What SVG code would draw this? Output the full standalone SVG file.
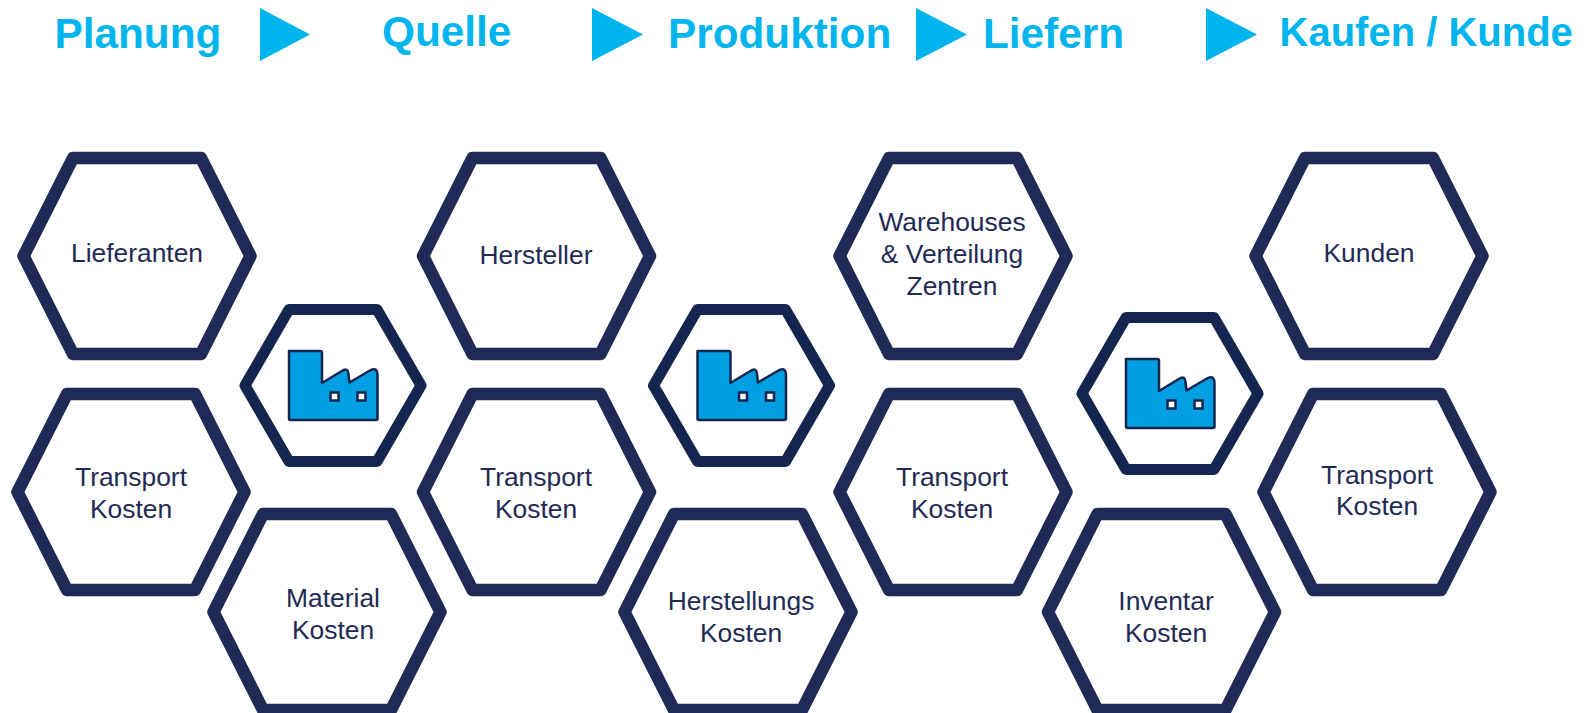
<svg xmlns="http://www.w3.org/2000/svg" width="1590" height="713" viewBox="0 0 1590 713">
<style>
.hex{fill:#fff;stroke:#1f2a56;stroke-width:12.500;stroke-linejoin:round}
.hs{fill:#fff;stroke:#14264f;stroke-width:11;stroke-linejoin:round}
.t{font-family:"Liberation Sans",Arial,sans-serif;font-size:26.400px;fill:#1f2a56;text-anchor:middle}
.h{font-family:"Liberation Sans",Arial,sans-serif;font-size:42.300px;font-weight:bold;fill:#00b5ee}
.a{fill:#00b5ee}
.f{fill:#009fe3;stroke:#14264f;stroke-width:2.500;stroke-linejoin:round}
.w{fill:#fff;stroke:#14264f;stroke-width:2.500}
</style>
<defs>
<polygon id="hx" points="-113.500,0 -64,-98 64,-98 113.500,0 64,98 -64,98"/>
<polygon id="hy" points="-88,0 -44,-76 44,-76 88,0 44,76 -44,76"/>
<g id="fac">
<path class="f" d="M-44,-34.500 H-13 Q-11,-34.500 -11,-32.500 V-2.500 L8,-14 C12,-16.500 15,-17.500 15.500,-11 L16.500,-3 L36,-14.500 C41,-17.500 44.500,-17 44.500,-10 V33 Q44.500,34.500 43,34.500 H-42.500 Q-44,34.500 -44,33 Z"/>
<rect class="w" x="-2.500" y="7" width="8" height="8"/>
<rect class="w" x="24.500" y="7" width="8" height="8"/>
</g>
</defs>
<g id="connectors"></g>
<g id="headers">
<text class="h" x="54.500" y="48">Planung</text>
<text class="h" x="382" y="46">Quelle</text>
<text class="h" x="668" y="48">Produktion</text>
<text class="h" x="983" y="48">Liefern</text>
<text class="h" x="1279.500" y="46" style="font-size:40px">Kaufen / Kunde</text>
<polygon class="a" points="260,8 310,34.500 260,61"/>
<polygon class="a" points="592,8 643,34.500 592,61"/>
<polygon class="a" points="916,8 967,34.500 916,61"/>
<polygon class="a" points="1206,8 1257,34.500 1206,61"/>
</g>
<g id="n1"><use href="#hx" class="hex" x="137" y="256"/><text class="t" x="137" y="262">Lieferanten</text></g>
<g id="n2"><use href="#hx" class="hex" x="131" y="492"/><text class="t" x="131" y="486">Transport</text><text class="t" x="131" y="518">Kosten</text></g>
<g id="n3"><use href="#hx" class="hex" x="327" y="612"/><text class="t" x="333" y="607">Material</text><text class="t" x="333" y="639">Kosten</text></g>
<g id="n4"><use href="#hx" class="hex" x="536.500" y="256"/><text class="t" x="536" y="264">Hersteller</text></g>
<g id="n5"><use href="#hx" class="hex" x="536.500" y="492"/><text class="t" x="536" y="486">Transport</text><text class="t" x="536" y="518">Kosten</text></g>
<g id="n6"><use href="#hx" class="hex" x="738" y="612"/><text class="t" x="741" y="610">Herstellungs</text><text class="t" x="741" y="642">Kosten</text></g>
<g id="n7"><use href="#hx" class="hex" x="953" y="256"/><text class="t" x="952" y="231">Warehouses</text><text class="t" x="952" y="263">&amp; Verteilung</text><text class="t" x="952" y="295">Zentren</text></g>
<g id="n8"><use href="#hx" class="hex" x="953" y="492"/><text class="t" x="952" y="486">Transport</text><text class="t" x="952" y="518">Kosten</text></g>
<g id="n9"><use href="#hx" class="hex" x="1161.500" y="612"/><text class="t" x="1166" y="610">Inventar</text><text class="t" x="1166" y="642">Kosten</text></g>
<g id="n10"><use href="#hx" class="hex" x="1369" y="256"/><text class="t" x="1369" y="262">Kunden</text></g>
<g id="n11"><use href="#hx" class="hex" x="1377" y="492"/><text class="t" x="1377" y="484">Transport</text><text class="t" x="1377" y="515">Kosten</text></g>
<g id="f1"><use href="#hy" class="hs" x="333" y="385.500"/><use href="#fac" x="333" y="385.500"/></g>
<g id="f2"><use href="#hy" class="hs" x="741.500" y="385.500"/><use href="#fac" x="741.500" y="385.500"/></g>
<g id="f3"><use href="#hy" class="hs" x="1170" y="393.500"/><use href="#fac" x="1170" y="393.500"/></g>
</svg>
